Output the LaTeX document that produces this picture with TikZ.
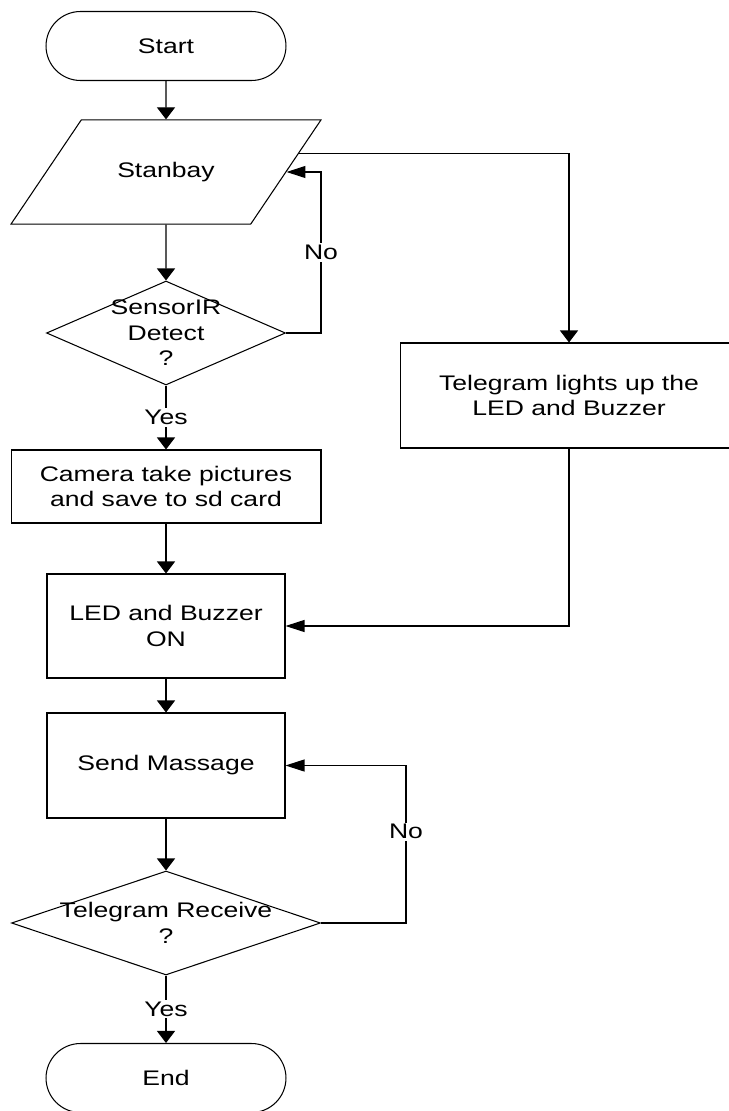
\documentclass[tikz,border=0pt]{standalone}
\usepackage{fontspec}
\setmainfont{Liberation Sans}[FakeStretch=1.26]
\usetikzlibrary{arrows.meta,shapes.geometric,calc}
\begin{document}
\begin{tikzpicture}[x=0.02cm,y=-0.02cm,line width=0.6pt,font=\fontsize{12}{14.5}\selectfont,
  terminal/.style={draw,rounded corners=0.69cm,minimum width=4.8cm,minimum height=1.38cm},
  inout/.style={draw,trapezium,trapezium left angle=56,trapezium right angle=124,trapezium stretches body,inner ysep=0.845cm,minimum width=6.2cm},
  process/.style={draw,align=center},
  decision/.style={draw,diamond,inner sep=0pt},
  varr/.style={-{Triangle[length=0.24cm,width=0.36cm]}},
  harr/.style={-{Triangle[length=0.38cm,width=0.24cm]}},
  lbl/.style={fill=white,inner sep=1pt}]
\useasboundingbox (0,0) rectangle (729,1111);

\node[terminal] (start) at (166,46) {Start};
\node[inout] (stanbay) at (166,172) {Stanbay};
\node[decision,minimum width=4.78cm,minimum height=2.08cm,label={[align=center]center:SensorIR\\Detect\\?}] (detect) at (166,333) {};
\node[process,minimum width=6.2cm,minimum height=1.46cm] (camera) at (166,486.5) {Camera take pictures\\and save to sd card};
\node[process,minimum width=4.76cm,minimum height=2.08cm] (led) at (166,626) {LED and Buzzer\\ON};
\node[process,minimum width=4.76cm,minimum height=2.1cm] (send) at (166,765.5) {Send Massage};
\node[decision,minimum width=6.18cm,minimum height=2.08cm,label={[align=center]center:Telegram Receive\\?}] (receive) at (166,923) {};
\node[terminal] (end) at (166,1078) {End};
\node[process,minimum width=6.76cm,minimum height=2.1cm] (telegram) at (569,395.5) {Telegram lights up the\\LED and Buzzer};

\coordinate (exit) at ($(stanbay.top right corner)!0.32!(stanbay.bottom right corner)$);

\draw[varr] (start) -- (stanbay);
\draw[varr] (stanbay) -- (detect);
\draw[varr] (detect) -- node[lbl] {Yes} (camera);
\draw[harr] (detect.east) -- ++(35,0) |- node[lbl,pos=0.25] {No} (stanbay.right side);
\draw[varr] (exit) -| (telegram.north);
\draw[harr] (telegram.south) |- (led.east);
\draw[varr] (camera) -- (led);
\draw[varr] (led) -- (send);
\draw[varr] (send) -- (receive);
\draw[harr] (receive.east) -- ++(85,0) |- node[lbl,pos=0.29] {No} (send.east);
\draw[varr] (receive) -- node[lbl] {Yes} (end);
\end{tikzpicture}
\end{document}
